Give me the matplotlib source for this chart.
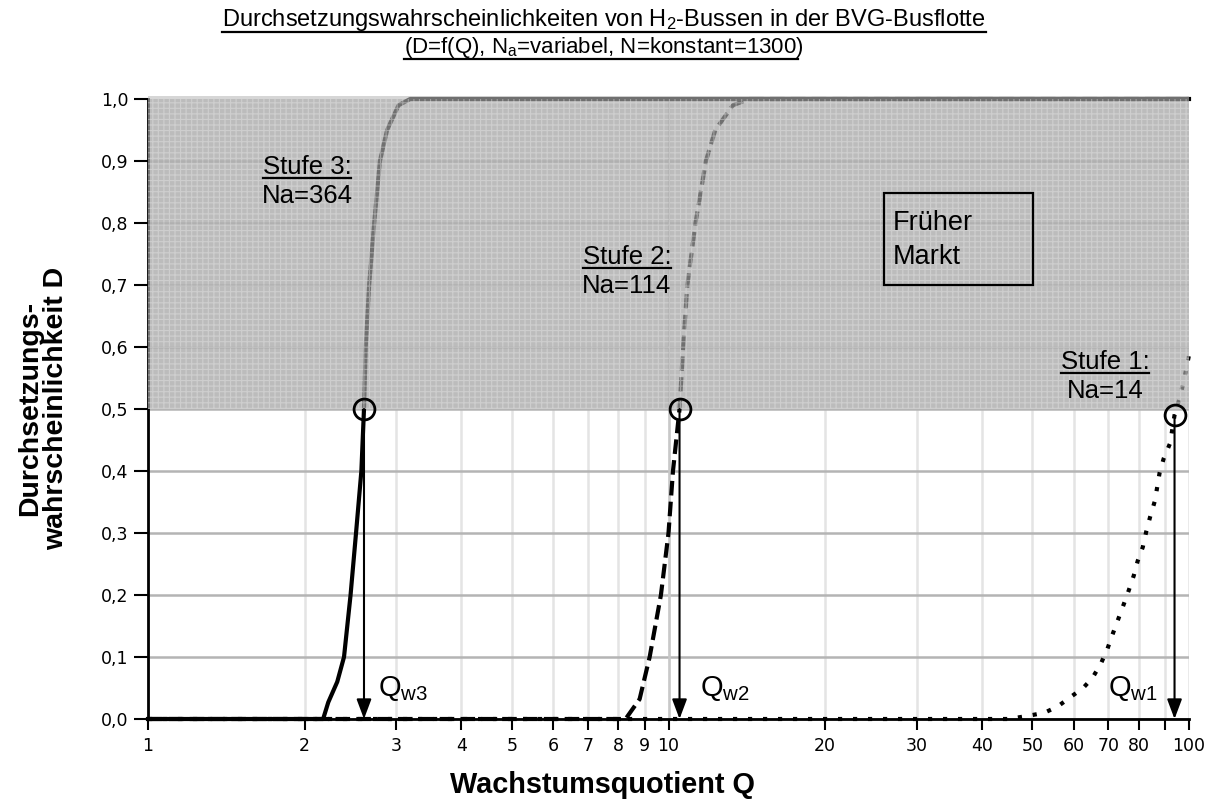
import matplotlib
matplotlib.use('Agg')
import matplotlib.pyplot as plt
from matplotlib.patches import Rectangle
from matplotlib.lines import Line2D
import numpy as np

plt.rcParams['font.family'] = ['Liberation Sans', 'DejaVu Sans']
plt.rcParams['mathtext.fontset'] = 'custom'
plt.rcParams['mathtext.rm'] = 'Liberation Sans'
plt.rcParams['mathtext.it'] = 'Liberation Sans:italic'
plt.rcParams['hatch.linewidth'] = 0.8

#Daten
# Stufe 3: Na=364 (durchgezogen)
q3 = [1, 2.17, 2.22, 2.31, 2.38, 2.45, 2.51, 2.57, 2.60, 2.62, 2.66, 2.72, 2.79, 2.88, 3.03, 3.19, 100]
d3 = [0, 0, 0.027, 0.06, 0.1, 0.2, 0.3, 0.4, 0.5, 0.6, 0.7, 0.8, 0.9, 0.95, 0.99, 1.0, 1.0]
# Stufe 2: Na=114 (gestrichelt)
q2 = [1, 8.27, 8.8, 9.2, 9.67, 10.0, 10.2, 10.5, 10.67, 10.87, 11.27, 11.8, 12.3, 13.3, 14.3, 100]
d2 = [0, 0, 0.032, 0.1, 0.2, 0.3, 0.4, 0.5, 0.6, 0.7, 0.8, 0.9, 0.95, 0.99, 1.0, 1.0]
# Stufe 1: Na=14 (gepunktet)
q1 = [1, 45, 49, 52.7, 55.9, 58.9, 62.6, 65.2, 67.7, 69.7, 71.2, 74.7, 76.5, 78.3, 79.7,
      81.5, 82.8, 84.2, 86.0, 87.8, 89.4, 92.0, 93.8, 96.0, 98.0, 100]
d1 = [0, 0, 0.005, 0.01, 0.02, 0.034, 0.05, 0.066, 0.089, 0.113, 0.135, 0.182, 0.206, 0.231, 0.255,
      0.277, 0.303, 0.326, 0.352, 0.397, 0.42, 0.445, 0.49, 0.518, 0.55, 0.587]

# Wendepunkte Q_w
qw = [93.8, 10.5, 2.6]
dw = [0.49, 0.5, 0.5]
qw_labels = [r'Q$_{\mathrm{w1}}$', r'Q$_{\mathrm{w2}}$', r'Q$_{\mathrm{w3}}$']

stufen = ['Stufe 1:', 'Stufe 2:', 'Stufe 3:']
na_labels = ['Na=14', 'Na=114', 'Na=364']

x_ticks = [1, 2, 3, 4, 5, 6, 7, 8, 9, 10, 20, 30, 40, 50, 60, 70, 80, 90, 100]
x_ticklabels = ['1', '2', '3', '4', '5', '6', '7', '8', '9', '10', '20', '30', '40', '50',
                '60', '70', '80', '', '100']
y_ticks = [0.0, 0.1, 0.2, 0.3, 0.4, 0.5, 0.6, 0.7, 0.8, 0.9, 1.0]
y_ticklabels = ['0,0', '0,1', '0,2', '0,3', '0,4', '0,5', '0,6', '0,7', '0,8', '0,9', '1,0']

shade = '#bcbcbc'

################################################
# Plot
################################################
fig = plt.figure(figsize=(12.08, 8.05), dpi=100, facecolor='w')
ax = fig.add_axes([148/1208, 1-719/805, (1189-148)/1208, (719-99)/805])
ax.set_xscale('log')
ax.set_xlim(1, 100)
ax.set_ylim(0, 1.0)

ax.set_xticks(x_ticks)
ax.set_xticklabels(x_ticklabels, family='DejaVu Sans', fontsize=12.5)
ax.xaxis.set_minor_locator(matplotlib.ticker.NullLocator())
ax.set_yticks(y_ticks)
ax.set_yticklabels(y_ticklabels, family='DejaVu Sans', fontsize=12.5)
ax.tick_params(axis='x', length=8, width=1.5, direction='out', pad=5)
ax.tick_params(axis='y', length=10, width=1.5, direction='out', pad=4)

ax.grid(True, axis='x', color='#e4e4e4', lw=1.8)
ax.grid(True, axis='y', color='#b4b4b4', lw=1.8)
ax.axvline(10, color='#c8c8c8', lw=1.8, zorder=0.9)
ax.set_axisbelow(True)

for s in ['top', 'right']:
	ax.spines[s].set_visible(False)
ax.spines['left'].set_linewidth(2)
ax.spines['bottom'].set_linewidth(2)

# Frueher Markt: schraffierter Bereich (unter den Kurven)
ax.add_patch(Rectangle((1, 0.5), 99, 0.5, facecolor=shade, edgecolor='none', zorder=1.2))
ax.add_patch(Rectangle((1, 0.5), 99, 0.5, fill=False, hatch='+++', edgecolor='#dcdcdc', lw=0, zorder=1.3))
ax.hlines(y_ticks[6:10], 1, 100, color='#a0a0a0', lw=1.8, zorder=1.4)
ax.vlines(10, 0.5, 1.0, color='#a4a4a4', lw=1.5, zorder=1.4)

ax.plot(q1, d1, color='k', lw=3, linestyle=(0, (1, 2.6)), dash_capstyle='butt', zorder=2, clip_on=False)
ax.plot(q2, d2, color='k', lw=3, linestyle=(0, (3.5, 1.5)), dash_capstyle='butt', zorder=2, clip_on=False)
ax.plot(q3, d3, color='k', lw=3, zorder=2, clip_on=False)

# halbtransparente Ueberdeckung, damit die Kurven im Bereich grau wirken
ax.add_patch(Rectangle((1, 0.5), 99, 0.505, facecolor=shade, edgecolor='none', alpha=0.6, zorder=3, clip_on=False))
ax.add_patch(Rectangle((1, 0.5), 99, 0.5, fill=False, hatch='+++', edgecolor='#d4d4d4', lw=0, alpha=0.5, zorder=3.1))

# Kreise und Pfeile
ax.plot(qw, dw, 'o', ms=15, mfc='none', mec='k', mew=2, zorder=5)
for q, d in zip(qw, dw):
	ax.annotate('', xy=(q, 0), xytext=(q, d), zorder=5,
		arrowprops=dict(arrowstyle='-|>,head_length=0.8,head_width=0.3', color='k', lw=1.5,
			mutation_scale=15, shrinkA=0, shrinkB=0))

qw_txt_x = [1108, 700, 378]
for lab, xp in zip(qw_labels, qw_txt_x):
	fig.text(xp/1208, 1-688/805, lab, fontsize=21, va='center', ha='left')

fig.canvas.draw()
rend = fig.canvas.get_renderer()

def underline(t, trim=0):
	bb = t.get_window_extent(renderer=rend)
	y = bb.y0 + 1
	fig.add_artist(Line2D([bb.x0/1208, (bb.x1-trim)/1208], [y/805, y/805], color='k', lw=1.6))

# Stufen-Beschriftung
stufe_pos = [(1105, 362), (627, 257), (307, 167)]
for st, na, (xp, yp) in zip(stufen, na_labels, stufe_pos):
	t = fig.text(xp/1208, 1-yp/805, st, fontsize=18.5, ha='center', va='center', zorder=6)
	fig.text(xp/1208, 1-(yp+29)/805, na, fontsize=18.5, ha='center', va='center', zorder=6)
	fig.canvas.draw()
	underline(t)

# Kasten "Frueher Markt"
fig.add_artist(Rectangle((884/1208, 1-285/805), 149/1208, 92/805, transform=fig.transFigure,
	fill=False, ec='k', lw=1.6, zorder=6))
fig.text(893/1208, 1-240/805, 'Früher\nMarkt', fontsize=19.5, ha='left', va='center', linespacing=1.45)

# Titel
t1 = fig.text(0.5, 1-20/805, 'Durchsetzungswahrscheinlichkeiten von H$_2$-Bussen in der BVG-Busflotte',
	fontsize=17, ha='center', va='center')
t2 = fig.text(0.5, 1-48/805, r'(D=f(Q), N$_\mathrm{a}$=variabel, N=konstant=1300)',
	fontsize=16, ha='center', va='center')
fig.canvas.draw()
underline(t1)
underline(t2, trim=6)

# Achsenbeschriftung
fig.text(603/1208, 1-785/805, 'Wachstumsquotient Q', fontsize=20.8, fontweight='bold', ha='center', va='center')
fig.text(43/1208, 1-408/805, 'Durchsetzungs-\nwahrscheinlichkeit D', fontsize=20.5, fontweight='bold',
	ha='center', va='center', rotation=90, multialignment='center', linespacing=1.0)

plt.savefig('out.png', dpi=100)
